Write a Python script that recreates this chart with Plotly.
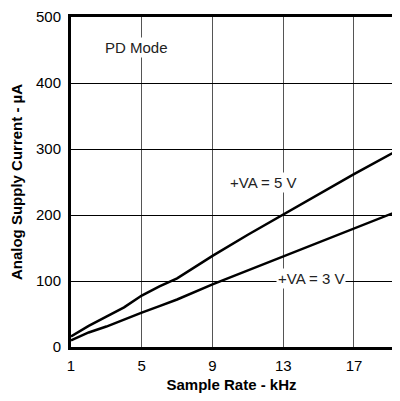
import plotly.graph_objects as go

# sample rate (kHz)
rate = [1, 2, 3, 4, 5, 6, 7, 9, 11, 13, 15, 17, 19.6]
# analog supply current (uA)
i_5v = [16, 32, 46, 60, 78, 92, 104, 138, 170, 201, 231, 262, 300]
i_3v = [10, 22, 31, 42, 52, 62, 72, 95, 116, 138, 158, 179, 207]

x_ticks = [1, 5, 9, 13, 17]
y_ticks = [0, 100, 200, 300, 400, 500]

FONT = "Liberation Sans, Arial, sans-serif"

fig = go.Figure()
for ys in (i_5v, i_3v):
    fig.add_trace(go.Scatter(x=rate, y=ys, mode="lines",
                             line=dict(color="black", width=2.5),
                             showlegend=False, hoverinfo="skip"))

for txt, x, y in [("PD Mode", 4.73, 454), ("+VA = 5 V", 11.85, 250), ("+VA = 3 V", 14.57, 104)]:
    fig.add_annotation(x=x, y=y, text=txt, showarrow=False, bgcolor="white",
                       font=dict(family=FONT, size=15, color="#222"), borderpad=1)

fig.update_xaxes(range=[1, 19.15], tickvals=x_ticks, showline=True, mirror=True,
                 linecolor="black", linewidth=3, showgrid=True, gridcolor="#555",
                 gridwidth=1, zeroline=False, ticks="outside", ticklen=3,
                 tickcolor="rgba(0,0,0,0)", ticklabeloverflow="allow",
                 tickfont=dict(family=FONT, size=15, color="black"),
                 title=dict(text="<b>Sample Rate - kHz</b>", standoff=8,
                            font=dict(family=FONT, size=15, color="black")))
fig.update_yaxes(range=[0, 500], tickvals=y_ticks, showline=True, mirror=False,
                 linecolor="black", linewidth=3, showgrid=True, gridcolor="black",
                 gridwidth=1, zeroline=False, ticks="outside", ticklen=4,
                 tickcolor="rgba(0,0,0,0)", ticklabeloverflow="allow",
                 tickfont=dict(family=FONT, size=15, color="black"),
                 title=dict(text="<b>Analog Supply Current - µA</b>", standoff=10,
                            font=dict(family=FONT, size=15, color="black")))

# the page body adds an 8px margin, so keep the figure inside the window
fig.update_layout(width=384, height=385, margin=dict(l=63, r=0, t=6, b=44),
                  plot_bgcolor="white", paper_bgcolor="white")
fig.write_html("out.html")
